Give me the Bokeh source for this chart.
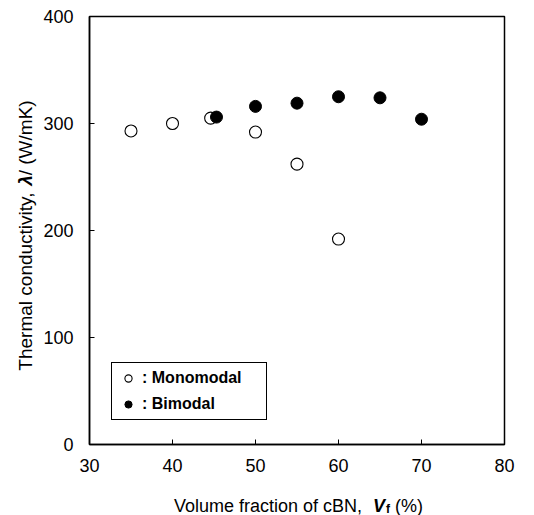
import math
from bokeh.plotting import figure
from bokeh.layouts import row, column
from bokeh.models import Range1d, FixedTicker, Label, Legend, LegendItem
from bokeh.embed import file_html
from bokeh.resources import INLINE

# ---- data ----
mono_x = [35, 40, 44.6, 50, 55, 60]
mono_y = [293, 300, 305, 292, 262, 192]
bi_x = [45.3, 50, 55, 60, 65, 70]
bi_y = [306, 316, 319, 325, 324, 304]
x_ticks = [30, 40, 50, 60, 70, 80]
y_ticks = [0, 100, 200, 300, 400]
mono_label = ": Monomodal"
bi_label = ": Bimodal"

FONT = "Liberation Sans"
FS = 18
FS_YT = 19

LEFT_W = 40
MAIN_W = 534 - LEFT_W
MAIN_H = 480
BOTTOM_H = 515 - MAIN_H

p = figure(width=MAIN_W, height=MAIN_H, output_backend="svg", toolbar_location=None,
           x_range=Range1d(30, 80), y_range=Range1d(0, 400),
           min_border_left=87 - LEFT_W, min_border_right=30, min_border_top=16,
           min_border_bottom=MAIN_H - 444)
p.grid.visible = False
p.outline_line_color = "black"
p.outline_line_width = 1.5
p.outline_line_alpha = 1
p.background_fill_color = "white"
p.border_fill_color = "white"

p.xaxis.ticker = FixedTicker(ticks=x_ticks)
p.yaxis.ticker = FixedTicker(ticks=y_ticks)
for ax in (p.xaxis[0], p.yaxis[0]):
    ax.axis_line_width = 1.5
    ax.axis_line_color = "black"
    ax.major_tick_in = 5
    ax.major_tick_out = 0
    ax.minor_tick_in = 0
    ax.minor_tick_out = 0
    ax.major_tick_line_color = "black"
    ax.major_label_text_font = FONT
    ax.major_label_text_font_size = f"{FS}px"
    ax.major_label_text_color = "black"
p.xaxis.major_label_standoff = 14
p.yaxis.major_label_standoff = 16

r_mono = p.scatter(mono_x, mono_y, size=12, marker="circle", fill_color="white",
                   line_color="black", line_width=1.1)
r_bi = p.scatter(bi_x, bi_y, size=12, marker="circle", fill_color="black",
                 line_color="black", line_width=1)

legend = Legend(items=[LegendItem(label=mono_label, renderers=[r_mono]),
                       LegendItem(label=bi_label, renderers=[r_bi])],
                location=(22, 24), border_line_color="black", border_line_width=1,
                border_line_alpha=1,
                label_text_font=FONT, label_text_font_style="bold", label_text_font_size="16px",
                label_text_color="black",
                padding=6, spacing=8, glyph_width=20, glyph_height=18, label_standoff=4,
                label_width=118, margin=0, background_fill_color="white", background_fill_alpha=1)
p.add_layout(legend)

# ---- axis titles made of styled pieces (real text, in side figures) ----
W_REG = {' ': 278, ',': 278, '/': 278, '(': 333, ')': 333, '%': 889, 'T': 611, 'h': 556,
         'e': 556, 'r': 333, 'm': 833, 'a': 556, 'l': 222, 'c': 500, 'o': 556, 'n': 556,
         'd': 556, 'u': 556, 't': 278, 'i': 222, 'v': 500, 'y': 500, 'W': 944, 'K': 667,
         'V': 667, 'f': 278, 'B': 667, 'N': 722}
W_BOLD = {'V': 667, 'f': 333, 'λ': 556}


def tw(s, bold, size):
    tab = W_BOLD if bold else W_REG
    return sum(tab.get(ch, 556) for ch in s) * size / 1000.0


def blank(w, h):
    f = figure(frame_width=w, frame_height=h, output_backend="svg", toolbar_location=None,
               title=None, x_range=Range1d(0, w), y_range=Range1d(0, h),
               x_axis_location=None, y_axis_location=None, min_border=0)
    f.grid.visible = False
    f.outline_line_color = None
    f.background_fill_color = "white"
    f.border_fill_color = "white"
    return f


# left: y title
lf = blank(LEFT_W, MAIN_H)
yparts = [("Thermal conductivity,", "normal", FS_YT, 0),
          ("λ", "bold italic", FS_YT, tw(" ", False, FS_YT)),
          ("/ (W/mK)", "normal", FS_YT, 0)]
total = sum(g + tw(t, "bold" in st, sz) for t, st, sz, g in yparts)
center_from_bottom = MAIN_H - 231 + 12
y0 = center_from_bottom - total / 2
for t, st, sz, gap in yparts:
    y0 += gap
    lf.add_layout(Label(x=25, y=y0, text=t, angle=math.pi / 2,
                        text_font=FONT, text_font_style=st, text_font_size=f"{sz}px",
                        text_align="left", text_baseline="alphabetic", text_color="black"))
    y0 += tw(t, "bold" in st, sz)

# bottom: x title
bf = blank(534, BOTTOM_H)
xparts = [("Volume fraction of cBN,", "normal", FS, 0, 0),
          ("V", "bold italic", FS, tw("  ", False, FS), 0),
          ("f", "bold", 12, 1, -3),
          ("(%)", "normal", FS, tw(" ", False, FS), 0)]
total = sum(g + tw(t, "bold" in st, sz) for t, st, sz, g, d in xparts)
x0 = 298 - total / 2
for t, st, sz, gap, dy in xparts:
    x0 += gap
    bf.add_layout(Label(x=x0, y=10 + dy, text=t,
                        text_font=FONT, text_font_style=st, text_font_size=f"{sz}px",
                        text_align="left", text_baseline="alphabetic", text_color="black"))
    x0 += tw(t, "bold" in st, sz)

layout = column(row(lf, p, spacing=0), bf, spacing=0)
open("out.html", "w").write(file_html(layout, INLINE))
